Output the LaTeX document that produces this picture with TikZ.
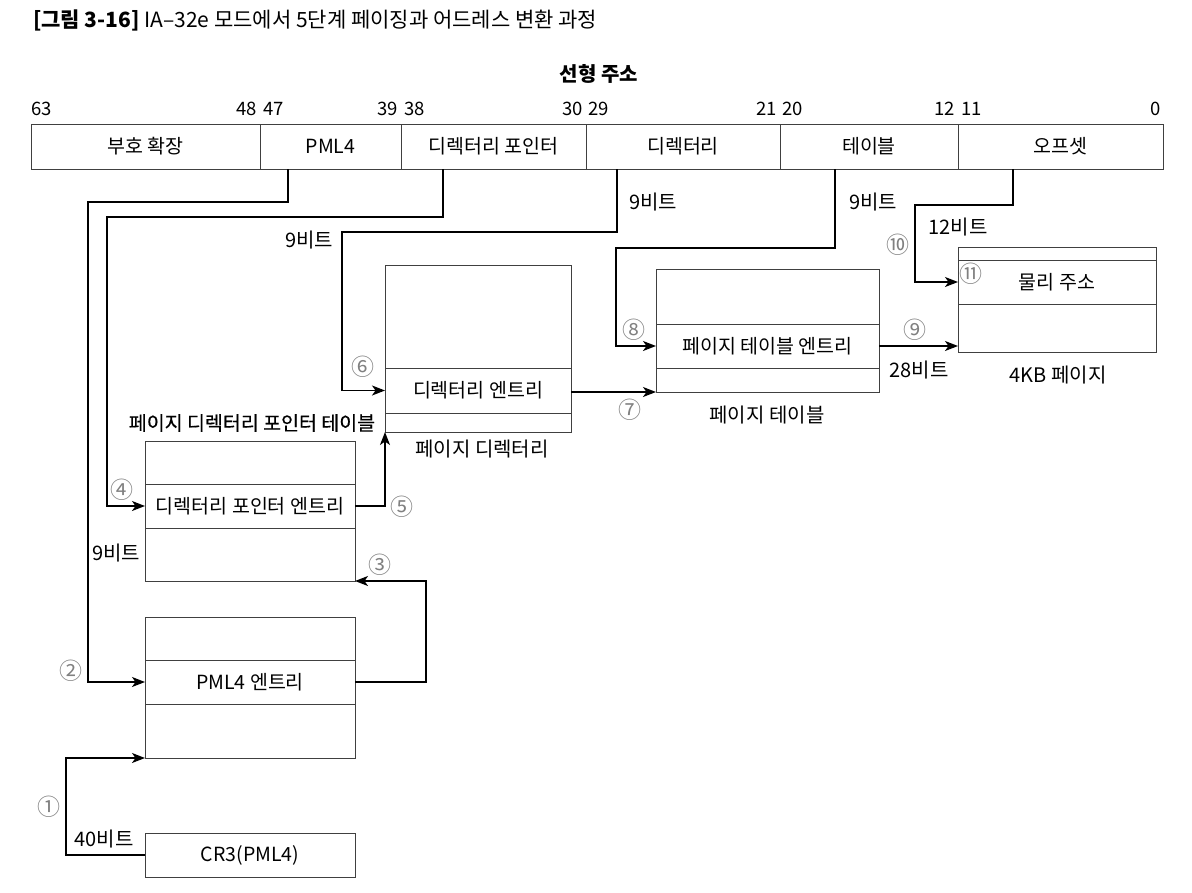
\documentclass[tikz,border=0pt]{standalone}
\usepackage{fontspec}
\setmainfont{Noto Sans CJK KR}
\newfontfamily\cjkmed[FakeBold=0.5]{Noto Sans CJK KR}
\usetikzlibrary{arrows.meta,calc}
\begin{document}
\begin{tikzpicture}[x=1pt,y=-1pt,
  every node/.style={font=\fontsize{19.5}{22}\selectfont, inner sep=0pt, outer sep=0pt},
  cell/.style={draw=black!75, line width=1pt, anchor=north west, minimum width=#1},
  field/.style={draw=black!75, line width=1pt, anchor=north west, minimum height=45pt, minimum width=#1},
  conn/.style={draw=black, line width=1.4pt},
  arr/.style={conn, -{Stealth[length=13pt,width=10pt,inset=3.5pt]}},
  num/.style={text=black!50, font=\fontsize{23}{23}\selectfont},
  lbl/.style={font=\fontsize{20}{22}\selectfont},
  bitn/.style={font=\fontsize{18.5}{20}\selectfont}
]
\useasboundingbox (0,0) rectangle (1192,892);

% title
\node[anchor=west, font=\fontsize{21}{23}\selectfont] (title) at (33,20) {\textbf{[그림 3-16]} IA–32e 모드에서 5단계 페이징과 어드레스 변환 과정};
\node[font=\fontsize{20}{22}\selectfont\bfseries] (linaddr) at (599,74) {선형 주소};

% bit numbers
\node[bitn, anchor=west] (b63) at (31,109) {63};
\node[bitn, anchor=east] (b48) at (257,109) {48};
\node[bitn, anchor=west] (b47) at (263,109) {47};
\node[bitn, anchor=east] (b39) at (398,109) {39};
\node[bitn, anchor=west] (b38) at (404,109) {38};
\node[bitn, anchor=east] (b30) at (583,109) {30};
\node[bitn, anchor=west] (b29) at (588,109) {29};
\node[bitn, anchor=east] (b21) at (777,109) {21};
\node[bitn, anchor=west] (b20) at (782,109) {20};
\node[bitn, anchor=east] (b12) at (955,109) {12};
\node[bitn, anchor=west] (b11) at (961,109) {11};
\node[bitn, anchor=east] (b0) at (1161,109) {0};

% linear address bar
\node[field=229pt] (f1) at (31,124) {부호 확장};
\node[field=141pt] (f2) at (260,124) {PML4};
\node[field=185pt] (f3) at (401,124) {디렉터리 포인터};
\node[field=194pt] (f4) at (586,124) {디렉터리};
\node[field=178pt] (f5) at (780,124) {테이블};
\node[field=205pt] (f6) at (958,124) {오프셋};

% page directory pointer table
\node[font=\fontsize{19.5}{22}\selectfont\cjkmed] (pdptt) at (252,423) {페이지 디렉터리 포인터 테이블};
\node[cell=210pt, minimum height=43pt] (p1) at (145,441) {};
\node[cell=210pt, minimum height=44pt] (p2) at (145,484) {디렉터리 포인터 엔트리};
\node[cell=210pt, minimum height=53pt] (p3) at (145,528) {};

% PML4 table
\node[cell=210pt, minimum height=43pt] (m1) at (145,617) {};
\node[cell=210pt, minimum height=44pt] (m2) at (145,660) {PML4 엔트리};
\node[cell=210pt, minimum height=54pt] (m3) at (145,704) {};

% CR3
\node[cell=210pt, minimum height=44pt] (c) at (145,833) {CR3(PML4)};

% page directory
\node[cell=186pt, minimum height=103pt] (d1) at (385,265) {};
\node[cell=186pt, minimum height=45pt] (d2) at (385,368) {디렉터리 엔트리};
\node[cell=186pt, minimum height=19pt] (d3) at (385,413) {};
\node[lbl] (pdl) at (482,449) {페이지 디렉터리};

% page table
\node[cell=223pt, minimum height=55pt] (t1) at (656,269) {};
\node[cell=223pt, minimum height=44pt] (t2) at (656,324) {페이지 테이블 엔트리};
\node[cell=223pt, minimum height=24pt] (t3) at (656,368) {};
\node[lbl] (ptl) at (767,415) {페이지 테이블};

% 4KB page
\node[cell=198pt, minimum height=13pt] (g1) at (958,247) {};
\node[cell=198pt, minimum height=44pt] (g2) at (958,260) {물리 주소};
\node[cell=198pt, minimum height=48pt] (g3) at (958,304) {};
\node[lbl] (pgl) at (1058,375) {4KB 페이지};

% connectors
\draw[arr] (c.west) -- ++(-79,0) |- (m3.south west);
\draw[arr] ([xshift=-42.5pt]f2.south) |- (88,202) |- (m2.west);
\draw[arr] (m2.east) -- ++(71,0) |- (p3.south east);
\draw[arr] ([xshift=-50.5pt]f3.south) |- (107,217) |- (p2.west);
\draw[arr] (p2.east) -| (d3.south west);
\draw[arr] ([xshift=-66pt]f4.south) |- (342,232) |- (d2.west);
\draw[arr] (d2.east |- t3.south) -- (t3.south west);
\draw[arr] ([xshift=-34pt]f5.south) |- (616,248) |- (t2.west);
\draw[arr] (t2.east) -- (t2.east -| g3.west);
\draw[arr] ([xshift=-47.5pt]f6.south) |- (915,205) |- (g2.west);

% bit labels
\node[lbl] (l40) at (104,839) {40비트};
\node[lbl] (l9a) at (116,553) {9비트};
\node[lbl] (l9b) at (309,240) {9비트};
\node[lbl] (l9c) at (653,202) {9비트};
\node[lbl] (l9d) at (873,202) {9비트};
\node[lbl] (l12) at (958,227) {12비트};
\node[lbl] (l28) at (919,370) {28비트};

% step numbers
\node[num] (n1) at (49,807) {①};
\node[num] (n2) at (71,671) {②};
\node[num] (n3) at (380,565) {③};
\node[num] (n4) at (122,490) {④};
\node[num] (n5) at (402,507) {⑤};
\node[num] (n6) at (363,367) {⑥};
\node[num] (n7) at (630,410) {⑦};
\node[num] (n8) at (634,330) {⑧};
\node[num] (n9) at (915,330) {⑨};
\node[num] (n10) at (898,245) {⑩};
\node[num] (n11) at (971,274) {⑪};
\end{tikzpicture}
\end{document}
